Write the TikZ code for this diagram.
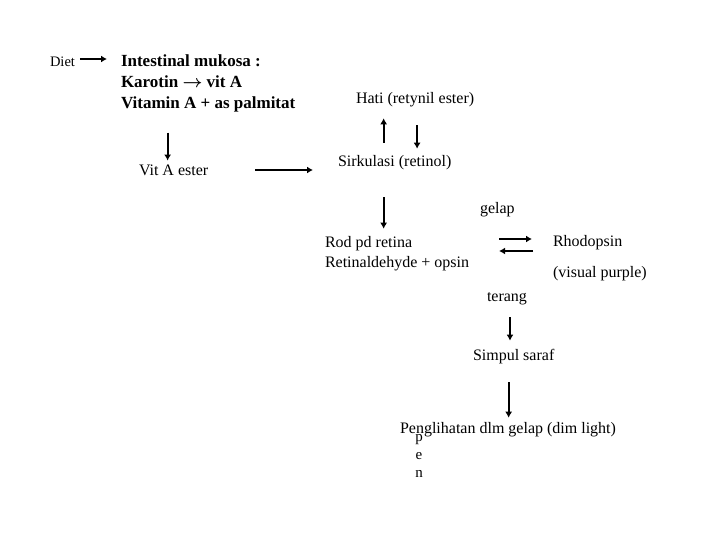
\documentclass[tikz,border=0pt]{standalone}
\usepackage{amsmath}
\usepackage{fontspec}
\setmainfont{Liberation Serif}
\usetikzlibrary{arrows.meta}
\tikzset{
    arr/.style={line width=2pt, -{Latex[length=6pt, width=7pt]}},
    tx/.style={font=\fontsize{16}{20}\selectfont},
    bold/.style={font=\fontsize{17}{21}\selectfont\bfseries, align=left}
}
\begin{document}
\begin{tikzpicture}[x=1pt, y=-1pt, every node/.style={inner sep=0pt, outer sep=0pt, anchor=west}, line join=miter]
        \useasboundingbox (0,0) rectangle (720,540);
        \node[tx, font=\fontsize{14.5}{17}\selectfont] (diet) at (50, 62) {Diet};
        \node[bold] (intes) at (121, 83) {Intestinal mukosa :\\Karotin $\boldsymbol{\rightarrow}$ vit A\\Vitamin A + as palmitat};
        \node[tx] (hati) at (356, 100) {Hati (retynil ester)};
        \node[tx] (va) at (139, 170) {Vit A ester};
        \node[tx] (sirk) at (338, 163) {Sirkulasi (retinol)};
        \node[tx] (gelap) at (480, 210) {gelap};
        \node[tx, align=left] (rod) at (325, 254) {Rod pd retina\\Retinaldehyde + opsin};
        \node[tx] (rhodo) at (553, 243) {Rhodopsin};
        \node[tx] (visual) at (553, 274) {(visual purple)};
        \node[tx] (terang) at (487, 299) {terang};
        \node[tx] (simpul) at (473, 357) {Simpul saraf};
        \node[tx] (pengl) at (400, 430) {Penglihatan dlm gelap (dim light)};
        \node[tx, anchor=center, align=center, font=\fontsize{15}{18}\selectfont] (pen) at (419, 456) {p\\e\\n};

        \draw[arr, shorten <=5pt, shorten >=14pt] ([yshift=3pt]diet.east) -- ([yshift=3pt]diet.east -| intes.west);
        \draw[arr, shorten <=21pt, shorten >=4pt] ([xshift=-6pt]va.north |- intes.south) -- ([xshift=-6pt]va.north);
        \draw[arr, shorten <=47pt, shorten >=25pt] (va.east) -- (va.east -| sirk.west);
        \draw[arr, shorten <=13pt, shorten >=11pt] ([xshift=-11pt]sirk.north) -- ([xshift=-11pt]sirk.north |- hati.south);
        \draw[arr, shorten <=18pt, shorten >=7pt] ([xshift=2pt]hati.south) -- ([xshift=2pt]hati.south |- sirk.north);
        \draw[arr, shorten <=27pt, shorten >=8pt] ([xshift=-11pt]sirk.south) -- ([xshift=-11pt]sirk.south |- rod.north);
        \draw[arr, shorten <=30pt, shorten >=21pt] ([yshift=4pt]rhodo.west -| rod.east) -- ([yshift=4pt]rhodo.west);
        \draw[arr, shorten <=20pt, shorten >=30pt] ([yshift=-8pt]rhodo.west) -- ([yshift=-8pt]rhodo.west -| rod.east);
        \draw[arr, shorten <=12pt, shorten >=9pt] ([xshift=3pt]terang.south) -- ([xshift=3pt]terang.south |- simpul.north);
        \draw[arr, shorten <=18pt, shorten >=5pt] ([xshift=-5pt]simpul.south) -- ([xshift=-5pt]simpul.south |- pengl.north);
    \end{tikzpicture}
\end{document}
